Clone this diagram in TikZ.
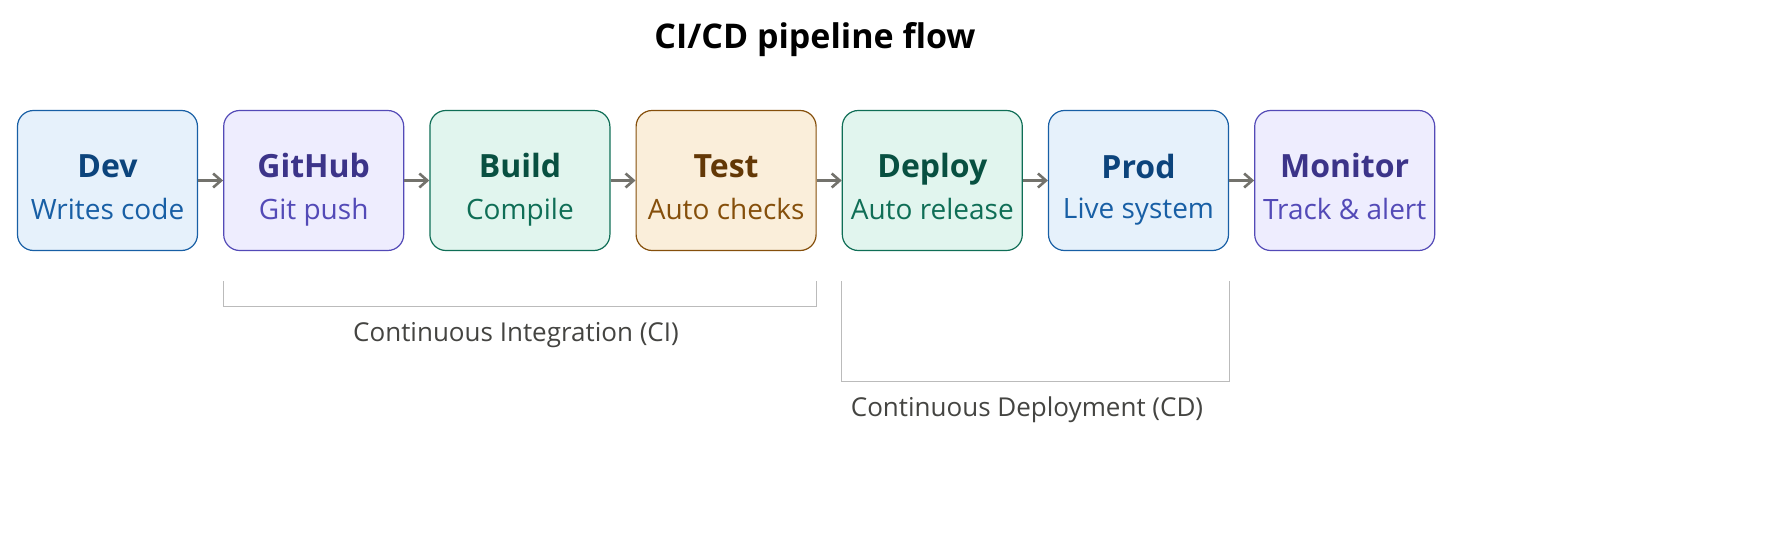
\documentclass[tikz,border=0pt]{standalone}
\usepackage{fontspec}
\setmainfont{Open Sans}
\usetikzlibrary{positioning, arrows.meta}

\definecolor{blueF}{HTML}{E6F1FB}\definecolor{blueD}{HTML}{185FA5}\definecolor{blueT}{HTML}{0C447C}
\definecolor{purpF}{HTML}{EEEDFE}\definecolor{purpD}{HTML}{534AB7}\definecolor{purpT}{HTML}{3C3489}
\definecolor{teaF}{HTML}{E1F5EE}\definecolor{teaD}{HTML}{0F6E56}\definecolor{teaT}{HTML}{085041}
\definecolor{ambF}{HTML}{FAEEDA}\definecolor{ambD}{HTML}{854F0B}\definecolor{ambT}{HTML}{633806}
\definecolor{lineG}{HTML}{BBBBBB}\definecolor{txtG}{HTML}{444441}\definecolor{arrG}{HTML}{73726C}

\newcommand{\stagetext}[2]{{\fontsize{16}{19}\selectfont\bfseries\rule[-4pt]{0pt}{26pt}#1}\\[5pt]{\fontsize{14}{17}\selectfont\rule[-4pt]{0pt}{14pt}#2}}

\begin{document}
\begin{tikzpicture}[x=0.5pt, y=-0.5pt, node distance=12.5pt]

  \tikzstyle{stage}=[rounded corners=8pt, draw, line width=0.6pt, align=center,
    minimum width=90pt, minimum height=70pt, inner sep=0pt]
  \tikzstyle{bluebox}=[stage, fill=blueF, draw=blueD, text=blueD]
  \tikzstyle{purpbox}=[stage, fill=purpF, draw=purpD, text=purpD]
  \tikzstyle{teabox}=[stage, fill=teaF, draw=teaD, text=teaD]
  \tikzstyle{ambbox}=[stage, fill=ambF, draw=ambD, text=ambD]
  \tikzstyle{flow}=[-{Straight Barb[length=4pt, width=7pt]}, arrG, line width=1.3pt]
  \tikzstyle{bracket}=[lineG, line width=0.6pt]
  \tikzstyle{note}=[txtG, font=\fontsize{13}{16}\selectfont]

  \useasboundingbox (0,0) rectangle (1765,556);

  \node[font=\fontsize{17}{20}\selectfont\bfseries, text=black] (title) at (815,40) {CI/CD pipeline flow};

  \node [bluebox] (dev) at (107.5,180.5) {\stagetext{\textcolor{blueT}{Dev}}{Writes code}};
  \node [purpbox, right = of dev] (github) {\stagetext{\textcolor{purpT}{GitHub}}{Git push}};
  \node [teabox, right = of github] (build) {\stagetext{\textcolor{teaT}{Build}}{Compile}};
  \node [ambbox, right = of build] (test) {\stagetext{\textcolor{ambT}{Test}}{Auto checks}};
  \node [teabox, right = of test] (deploy) {\stagetext{\textcolor{teaT}{Deploy}}{Auto release}};
  \node [bluebox, right = of deploy] (prod) {\stagetext{\textcolor{blueT}{Prod}}{Live system}};
  \node [purpbox, right = of prod] (monitor) {\stagetext{\textcolor{purpT}{Monitor}}{Track \& alert}};

  \draw [flow] (dev) -- (github);
  \draw [flow] (github) -- (build);
  \draw [flow] (build) -- (test);
  \draw [flow] (test) -- (deploy);
  \draw [flow] (deploy) -- (prod);
  \draw [flow] (prod) -- (monitor);

  % CI and CD brackets
  \draw [bracket] ([yshift=-15pt]github.south west) -- ++(0,-12.5pt) -| ([yshift=-15pt]test.south east);
  \node [note] (ci) at (516,335) {Continuous Integration (CI)};
  \draw [bracket] ([yshift=-15pt]deploy.south west) -- ++(0,-50pt) -| ([yshift=-15pt]prod.south east);
  \node [note] (cd) at (1027,410) {Continuous Deployment (CD)};
\end{tikzpicture}
\end{document}
